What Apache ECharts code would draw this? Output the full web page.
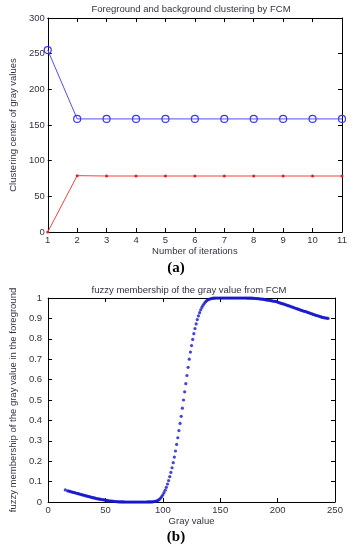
<!DOCTYPE html>
<html>
<head>
<meta charset="utf-8">
<script src="https://cdn.jsdelivr.net/npm/echarts@6/dist/echarts.min.js"></script>
<style>html,body{margin:0;padding:0;background:#fff;}#c{width:353px;height:550px;}</style>
</head>
<body>
<div id="c"></div>
<script>
// ---- Chart (a) data ----
const iterations = [1, 2, 3, 4, 5, 6, 7, 8, 9, 10, 11];
const foregroundCenter = [255, 158.5, 158.5, 158.5, 158.5, 158.5, 158.5, 158.5, 158.5, 158.5, 158.5];
const backgroundCenter = [0, 79, 78.5, 78.5, 78.5, 78.5, 78.5, 78.5, 78.5, 78.5, 78.5];
const yTicksA = [0, 50, 100, 150, 200, 250, 300];

// ---- Chart (b) data ----
// gray levels present: 15, then every integer 17..244
const grayValues = [15].concat(Array.from({length: 228}, (_, i) => 17 + i));
const membership = [
  0.059,
  0.055, 0.054, 0.052,
  0.050, 0.049, 0.047, 0.046, 0.044, 0.043, 0.041, 0.040, 0.038, 0.036,
  0.035, 0.033, 0.032, 0.030, 0.029, 0.027, 0.026, 0.024, 0.023, 0.021,
  0.020, 0.019, 0.017, 0.016, 0.015, 0.014, 0.013, 0.012, 0.011, 0.010,
  0.009, 0.008, 0.007, 0.006, 0.005, 0.0045, 0.004, 0.003, 0.0025, 0.002,
  0.0015, 0.001, 0.0008, 0.0006, 0.0004, 0.0003, 0.0002, 0.0001, 0.0001, 0,
  0, 0, 0, 0, 0, 0, 0, 0, 0, 0,
  0, 0, 0, 0, 0, 0.0001, 0.0001, 0.0002, 0.0003, 0.0004,
  0.0006, 0.001, 0.0015, 0.0025, 0.004, 0.006, 0.009, 0.013, 0.019, 0.026,
  0.035, 0.046, 0.058, 0.072, 0.088, 0.105, 0.124, 0.145, 0.168, 0.193,
  0.220, 0.250, 0.282, 0.315, 0.350, 0.385, 0.420, 0.460, 0.500, 0.540,
  0.580, 0.620, 0.660, 0.700, 0.735, 0.767, 0.797, 0.825, 0.850, 0.873,
  0.894, 0.912, 0.928, 0.942, 0.954, 0.964, 0.973, 0.980, 0.986, 0.990,
  0.993, 0.995, 0.997, 0.998, 0.999, 0.999, 1, 1, 1, 1,
  1, 1, 1, 1, 1, 1, 1, 1, 1, 1,
  1, 1, 1, 1, 1, 1, 1, 1, 1, 1,
  1, 1, 1, 0.9995, 0.9995, 0.9995, 0.999, 0.999, 0.999, 0.9985,
  0.998, 0.9975, 0.997, 0.9965, 0.996, 0.995, 0.9945, 0.994, 0.993, 0.992,
  0.991, 0.990, 0.989, 0.988, 0.987, 0.986, 0.985, 0.984, 0.983, 0.982,
  0.980, 0.978, 0.976, 0.974, 0.972, 0.971, 0.969, 0.967, 0.965, 0.963,
  0.961, 0.959, 0.957, 0.955, 0.953, 0.951, 0.949, 0.947, 0.945, 0.943,
  0.941, 0.939, 0.937, 0.935, 0.934, 0.932, 0.930, 0.928, 0.926, 0.924,
  0.922, 0.920, 0.918, 0.916, 0.914, 0.913, 0.911, 0.909, 0.907, 0.905,
  0.904, 0.903, 0.902, 0.901, 0.900
];
const xTicksB = [0, 50, 100, 150, 200, 250];

const FONT = "'Liberation Sans', Arial, sans-serif";
const TXT = '#333344';

const foregroundPts = iterations.map((it, i) => [it, foregroundCenter[i]]);
const backgroundPts = iterations.map((it, i) => [it, backgroundCenter[i]]);
const membershipPts = grayValues.map((g, i) => [g, membership[i]]);

function baseAxis(extra) {
  return Object.assign({
    axisLine: {show: true, onZero: false, lineStyle: {color: '#000', width: 1}},
    axisTick: {show: true, inside: true, length: 4, lineStyle: {color: '#000'}},
    splitLine: {show: false},
    axisLabel: {color: TXT, fontFamily: FONT, fontSize: 9.5},
    nameTextStyle: {color: TXT, fontFamily: FONT, fontSize: 9.5}
  }, extra);
}
function mirror(extra) {
  return Object.assign(baseAxis(extra), {axisLabel: {show: false}, name: ''});
}

const chart = echarts.init(document.getElementById('c'), null, {renderer: 'canvas'});
chart.setOption({
  animation: false,
  backgroundColor: '#fff',
  grid: [
    {left: 41, right: 11, top: 18, bottom: 318, show: false},
    {left: 44, right: 18, top: 298, bottom: 48, show: false}
  ],
  xAxis: [
    baseAxis({gridIndex: 0, type: 'value', min: 1, max: 11, interval: 1, position: 'bottom',
      name: 'Number of iterations', nameLocation: 'middle', nameGap: 12,
      axisLabel: {color: TXT, fontFamily: FONT, fontSize: 9.5, margin: 3}}),
    mirror({gridIndex: 0, type: 'value', min: 1, max: 11, interval: 1, position: 'top'}),
    baseAxis({gridIndex: 1, type: 'value', min: 0, max: 250, interval: 50, position: 'bottom',
      name: 'Gray value', nameLocation: 'middle', nameGap: 12,
      axisLabel: {color: TXT, fontFamily: FONT, fontSize: 9.5, margin: 3}}),
    mirror({gridIndex: 1, type: 'value', min: 0, max: 250, interval: 50, position: 'top'})
  ],
  yAxis: [
    baseAxis({gridIndex: 0, type: 'value', min: 0, max: 300, interval: 50, position: 'left',
      name: 'Clustering center of gray values', nameLocation: 'middle', nameGap: 24,
      axisLabel: {color: TXT, fontFamily: FONT, fontSize: 9.5, margin: 3}}),
    mirror({gridIndex: 0, type: 'value', min: 0, max: 300, interval: 50, position: 'right'}),
    baseAxis({gridIndex: 1, type: 'value', min: 0, max: 1, interval: 0.1, position: 'left',
      name: 'fuzzy membership of the gray value in the foreground', nameLocation: 'middle', nameGap: 23,
      axisLabel: {color: TXT, fontFamily: FONT, fontSize: 9.5, margin: 6}}),
    mirror({gridIndex: 1, type: 'value', min: 0, max: 1, interval: 0.1, position: 'right'})
  ],
  series: [
    {type: 'line', xAxisIndex: 0, yAxisIndex: 0, data: foregroundPts,
      symbol: 'circle', symbolSize: 7, clip: false,
      lineStyle: {color: '#5050ee', width: 1},
      itemStyle: {color: 'rgba(255,255,255,0)', borderColor: '#3a3aee', borderWidth: 1.2}},
    {type: 'line', xAxisIndex: 0, yAxisIndex: 0, data: backgroundPts,
      symbol: 'circle', symbolSize: 3, clip: false,
      lineStyle: {color: '#ee4444', width: 1},
      itemStyle: {color: '#dd2222'}},
    {type: 'scatter', xAxisIndex: 2, yAxisIndex: 2, data: membershipPts,
      symbol: 'circle', symbolSize: 3.2, clip: false,
      itemStyle: {color: '#1515cc'}}
  ],
  graphic: [
    {type: 'text', x: 191, y: 9, style: {text: 'Foreground and background clustering by FCM',
      font: '9.5px ' + FONT, fill: TXT, textAlign: 'center', textVerticalAlign: 'middle'}},
    {type: 'text', x: 189, y: 290, style: {text: 'fuzzy membership of the gray value from FCM',
      font: '9.5px ' + FONT, fill: TXT, textAlign: 'center', textVerticalAlign: 'middle'}},
    {type: 'text', x: 176, y: 268, style: {text: '(a)',
      font: 'bold 15px "Liberation Serif", "Times New Roman", serif', fill: '#000', textAlign: 'center', textVerticalAlign: 'middle'}},
    {type: 'text', x: 176, y: 537, style: {text: '(b)',
      font: 'bold 15px "Liberation Serif", "Times New Roman", serif', fill: '#000', textAlign: 'center', textVerticalAlign: 'middle'}}
  ]
});
</script>
</body>
</html>
